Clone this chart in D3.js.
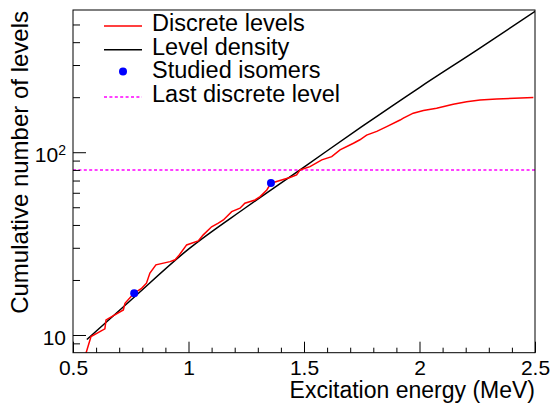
<!DOCTYPE html>
<html lang="en">
<head>
<meta charset="UTF-8">
<title>Cumulative levels</title>
<style>
html, body {
    margin: 0;
    padding: 0;
    background: #fff;
}
#graph {
    width: 551px;
    height: 406px;
}
text {
    font-family: "Liberation Sans", Arial, Helvetica, sans-serif;
    fill: #000;
}
.frame {
    fill: none;
    stroke: #000;
    stroke-width: 1;
}
.axis path {
    display: none;
}
.axis line {
    stroke: #000;
}
.discreteLine {
    fill: none;
    stroke: #ff0000;
    stroke-width: 1.5;
}
.densityLine {
    fill: none;
    stroke: #000;
    stroke-width: 1.5;
}
.lastLevel {
    stroke: #ff00ff;
    stroke-width: 1.5;
    stroke-dasharray: 3 2.4;
}
.isomer {
    fill: #0000ff;
}
</style>
</head>
<body>

<div id="graph"></div>

<script src="https://d3js.org/d3.v7.min.js"></script>
<script>

// discrete levels (cumulative count vs energy in MeV)
const discreteE = [0.543, 0.578, 0.638, 0.643, 0.718, 0.725, 0.764, 0.797, 0.818, 0.833, 0.859, 0.920, 0.942, 0.960, 0.992,
    1.042, 1.064, 1.100, 1.129, 1.151, 1.187, 1.223, 1.244, 1.288, 1.310, 1.339, 1.357, 1.396, 1.439, 1.468, 1.483,
    1.526, 1.577, 1.620, 1.656, 1.714, 1.742, 1.771, 1.815, 1.858, 1.916, 1.930, 1.973, 2.017, 2.074, 2.146, 2.204,
    2.262, 2.334, 2.493];
const discreteN = [7, 9.8, 10.8, 12.1, 13.7, 14.9, 16.9, 18.0, 19.2, 21.8, 24.2, 25.2, 25.8, 27.4, 31.1,
    32.7, 35.3, 39.1, 40.9, 42.6, 47.3, 49.4, 52.6, 54.8, 57.2, 62.2, 67.7, 70, 72.8, 75.2, 80,
    83.4, 90.8, 94.6, 103, 112, 117, 124, 130, 138, 150, 153.6, 163.5, 169, 174, 183, 189,
    193, 195.7, 199];

// level density
const densityE = [0.56, 0.75, 1.0, 1.25, 1.5, 1.75, 2.0, 2.25, 2.5];
const densityN = [9.44, 15.5, 29.5, 50, 83, 138, 226, 363, 589];

// studied isomers
const isomerE = [0.765, 1.357];
const isomerN = [16.9, 67.8];

const lastDiscreteLevel = 80;

const xMajorTicks = [0.5, 1, 1.5, 2, 2.5];
const xMinorTicks = [0.6, 0.7, 0.8, 0.9, 1.1, 1.2, 1.3, 1.4, 1.6, 1.7, 1.8, 1.9, 2.1, 2.2, 2.3, 2.4];
const yMajorTicks = [10, 100];
const yMinorTicks = [9, 20, 30, 40, 50, 60, 70, 80, 90, 200, 300, 400, 500];

const legendLabels = ["Discrete levels", "Level density", "Studied isomers", "Last discrete level"];

!(function(){
    let width = 551;
    let height = 406;
    let margin = {top: 10, left: 73, bottom: 53.3, right: 16};
    let chartWidth = width - (margin.left + margin.right);
    let chartHeight = height - (margin.top + margin.bottom);

    let svg = d3.select("#graph").append("svg")
        .attr("width", width)
        .attr("height", height);

    svg.append("defs").append("clipPath")
        .attr("id", "plotClip")
        .append("rect")
        .attr("width", chartWidth)
        .attr("height", chartHeight);

    let chartLayer = svg.append("g")
        .attr("transform", `translate(${margin.left}, ${margin.top})`);
    let axisLayer = svg.append("g");

    let xScale = d3.scaleLinear().domain([0.5, 2.5]).range([0, chartWidth]);
    let yScale = d3.scaleLog().domain([8, 600]).range([chartHeight, 0]);

    drawChart();
    drawAxis();
    drawLegend();

    function drawChart() {
        let plot = chartLayer.append("g").attr("clip-path", "url(#plotClip)");

        plot.append("line")
            .attr("class", "lastLevel")
            .attr("x1", 0)
            .attr("x2", chartWidth)
            .attr("y1", yScale(lastDiscreteLevel))
            .attr("y2", yScale(lastDiscreteLevel));

        let discrete = discreteE.map((e, i) => [e, discreteN[i]]);
        let density = densityE.map((e, i) => [e, densityN[i]]);

        let lineGen = d3.line()
            .x(d => xScale(d[0]))
            .y(d => yScale(d[1]));

        plot.append("path")
            .datum(density)
            .attr("class", "densityLine")
            .attr("d", lineGen.curve(d3.curveMonotoneX));

        plot.append("path")
            .datum(discrete)
            .attr("class", "discreteLine")
            .attr("d", lineGen.curve(d3.curveLinear));

        plot.selectAll(".isomer")
            .data(isomerE.map((e, i) => [e, isomerN[i]]))
            .enter().append("circle")
            .attr("class", "isomer")
            .attr("cx", d => xScale(d[0]))
            .attr("cy", d => yScale(d[1]))
            .attr("r", 4);
    }

    function drawAxis() {
        // x axis, ticks pointing inward
        let xg = axisLayer.append("g")
            .attr("transform", `translate(${margin.left}, ${margin.top + chartHeight})`);

        xg.append("g").attr("class", "axis")
            .call(d3.axisBottom(xScale).tickValues(xMinorTicks).tickSize(-5).tickFormat(""));

        xg.append("g").attr("class", "axis")
            .call(d3.axisBottom(xScale).tickValues(xMajorTicks).tickSize(-11).tickPadding(7)
                .tickFormat(d3.format("")))
            .selectAll("text")
            .attr("font-size", 21)
            .attr("dy", "0.71em");

        // y axis
        let yg = axisLayer.append("g")
            .attr("transform", `translate(${margin.left}, ${margin.top})`);

        yg.append("g").attr("class", "axis")
            .call(d3.axisLeft(yScale).tickValues(yMinorTicks).tickSize(-7).tickFormat(""));

        yg.append("g").attr("class", "axis")
            .call(d3.axisLeft(yScale).tickValues(yMajorTicks).tickSize(-13).tickPadding(7)
                .tickFormat(d => d === 100 ? "10" : String(d)))
            .selectAll("text")
            .attr("font-size", 21)
            .attr("dy", "0.45em")
            .each(function(d) {
                if (d === 100) {
                    d3.select(this).append("tspan")
                        .attr("dy", "-0.5em")
                        .attr("font-size", 14)
                        .text("2");
                }
            });

        // frame
        axisLayer.append("rect")
            .attr("class", "frame")
            .attr("x", margin.left)
            .attr("y", margin.top)
            .attr("width", chartWidth)
            .attr("height", chartHeight);

        // titles
        axisLayer.append("text")
            .attr("x", margin.left + chartWidth)
            .attr("y", 398)
            .attr("text-anchor", "end")
            .attr("font-size", 23)
            .text("Excitation energy (MeV)");

        axisLayer.append("text")
            .attr("transform", "translate(28, 11) rotate(-90)")
            .attr("text-anchor", "end")
            .attr("font-size", 24)
            .text("Cumulative number of levels");
    }

    function drawLegend() {
        let legend = svg.append("g").attr("transform", "translate(104, 26)");
        let step = 23.7;

        let rows = legend.selectAll(".legendRow")
            .data(legendLabels)
            .enter().append("g")
            .attr("class", "legendRow")
            .attr("transform", (d, i) => `translate(0, ${i * step})`);

        rows.append("text")
            .attr("x", 48)
            .attr("y", 5)
            .attr("font-size", 23.5)
            .text(d => d);

        legend.append("line").attr("class", "discreteLine")
            .attr("x1", 0).attr("x2", 38).attr("y1", 0).attr("y2", 0);
        legend.append("line").attr("class", "densityLine")
            .attr("x1", 0).attr("x2", 38).attr("y1", step).attr("y2", step);
        legend.append("circle").attr("class", "isomer")
            .attr("cx", 19).attr("cy", 2 * step - 2).attr("r", 4);
        legend.append("line").attr("class", "lastLevel")
            .attr("x1", 0).attr("x2", 38).attr("y1", 3 * step).attr("y2", 3 * step);
    }
}());

</script>
</body>
</html>
